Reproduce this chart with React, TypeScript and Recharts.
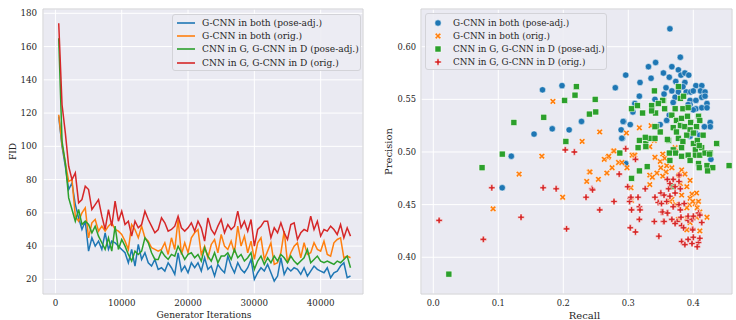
import React from 'react';
import {
  LineChart, Line, ScatterChart, Scatter, XAxis, YAxis, CartesianGrid,
  Legend, ReferenceArea,
} from 'recharts';

// ── Shared look (seaborn darkgrid-ish) ────────────────────────────────────────

const FONT = '"DejaVu Serif", "Liberation Serif", serif';
const PLOT_BG = '#eaeaf2';
const TEXT = '#262626';
const COLORS = ['#1f77b4', '#ff7f0e', '#2ca02c', '#d62728'];
const SERIES_NAMES = [
  'G-CNN in both (pose-adj.)',
  'G-CNN in both (orig.)',
  'CNN in G, G-CNN in D (pose-adj.)',
  'CNN in G, G-CNN in D (orig.)',
];

// ── Left panel: FID over training ─────────────────────────────────────────────

const ITERATIONS = [
  500, 1000, 1500, 2000, 2500, 3000, 3500, 4000, 4500, 5000,
  5500, 6000, 6500, 7000, 7500, 8000, 8500, 9000, 9500, 10000,
  10500, 11000, 11500, 12000, 12500, 13000, 13500, 14000, 14500, 15000,
  15500, 16000, 16500, 17000, 17500, 18000, 18500, 19000, 19500, 20000,
  20500, 21000, 21500, 22000, 22500, 23000, 23500, 24000, 24500, 25000,
  25500, 26000, 26500, 27000, 27500, 28000, 28500, 29000, 29500, 30000,
  30500, 31000, 31500, 32000, 32500, 33000, 33500, 34000, 34500, 35000,
  35500, 36000, 36500, 37000, 37500, 38000, 38500, 39000, 39500, 40000,
  40500, 41000, 41500, 42000, 42500, 43000, 43500, 44000, 44500,
];

const FID_GCNN_BOTH_POSE = [
  118, 100, 88, 74, 78, 65, 57, 50, 55, 37,
  45, 40, 43, 38, 48, 38, 43, 42, 40, 38,
  36, 30, 38, 28, 41, 32, 36, 30, 28, 32,
  26, 27, 25, 30, 27, 23, 36, 25, 28, 24,
  30, 27, 30, 25, 33, 26, 28, 22, 29, 26,
  24, 34, 28, 24, 30, 26, 24, 27, 32, 20,
  24, 27, 25, 29, 24, 19, 22, 33, 23, 27,
  25, 27, 26, 23, 27, 22, 25, 28, 26, 25,
  24, 27, 21, 24, 25, 28, 30, 21, 22,
];

const FID_GCNN_BOTH_ORIG = [
  119, 101, 90, 79, 80, 58, 55, 60, 63, 45,
  54, 56, 49, 52, 49, 52, 54, 50, 49, 47,
  43, 38, 53, 50, 45, 52, 45, 43, 39, 38,
  37, 38, 42, 35, 45, 38, 56, 35, 42, 36,
  45, 48, 50, 35, 40, 33, 41, 44, 36, 47,
  40, 38, 43, 36, 52, 40, 46, 36, 43, 32,
  42, 45, 32, 37, 42, 29, 30, 36, 49, 30,
  36, 40, 42, 33, 42, 35, 36, 42, 38, 37,
  43, 35, 34, 42, 44, 45, 33, 34, 33,
];

const FID_CNN_G_POSE = [
  165, 103, 90, 69, 62, 55, 62, 53, 55, 53,
  48, 52, 46, 42, 38, 45, 37, 52, 38, 44,
  40, 35, 31, 37, 35, 37, 45, 42, 36, 32,
  32, 37, 34, 32, 35, 34, 40, 36, 32, 35,
  36, 33, 35, 31, 39, 34, 31, 36, 30, 34,
  34, 36, 32, 38, 33, 35, 31, 33, 36, 26,
  31, 34, 29, 33, 30, 34, 31, 35, 33, 30,
  34, 31, 29, 31, 33, 38, 30, 32, 34, 31,
  30, 31, 30, 29, 31, 30, 32, 34, 27,
];

const FID_CNN_G_ORIG = [
  174, 125, 108, 88, 80, 84, 66, 68, 76, 74,
  62, 65, 68, 58, 50, 62, 52, 67, 55, 61,
  53, 55, 46, 55, 51, 53, 61, 56, 52, 48,
  50, 57, 54, 49, 50, 52, 58, 51, 49, 51,
  54, 49, 55, 51, 43, 57, 50, 47, 52, 56,
  48, 53, 50, 52, 61, 51, 55, 49, 56, 40,
  50, 52, 55, 55, 45, 51, 48, 54, 48, 44,
  53, 54, 44, 48, 50, 49, 58, 50, 55, 46,
  50, 49, 52, 50, 47, 53, 45, 51, 46,
];

const FID_X_TICKS = [0, 10000, 20000, 30000, 40000];
const FID_Y_TICKS = [20, 40, 60, 80, 100, 120, 140, 160, 180];
const FID_X_DOMAIN: [number, number] = [-1872, 46385];
const FID_Y_DOMAIN: [number, number] = [11.2, 182.6];

// ── Right panel: precision vs recall ──────────────────────────────────────────

const PR_GCNN_BOTH_POSE: [number, number][] = [
  [0.364, 0.617], [0.168, 0.559], [0.198, 0.563], [0.155, 0.517], [0.183, 0.522],
  [0.209, 0.521], [0.228, 0.529], [0.120, 0.496], [0.280, 0.561], [0.296, 0.573],
  [0.289, 0.521], [0.291, 0.513], [0.293, 0.529], [0.303, 0.526], [0.317, 0.553],
  [0.318, 0.566], [0.331, 0.581], [0.342, 0.585], [0.335, 0.570], [0.354, 0.575],
  [0.380, 0.590], [0.367, 0.581], [0.363, 0.571], [0.377, 0.578], [0.381, 0.573],
  [0.387, 0.575], [0.393, 0.573], [0.373, 0.567], [0.387, 0.566], [0.367, 0.558],
  [0.377, 0.557], [0.389, 0.557], [0.396, 0.557], [0.404, 0.563], [0.413, 0.563],
  [0.400, 0.558], [0.411, 0.558], [0.418, 0.557], [0.355, 0.555], [0.341, 0.550],
  [0.372, 0.552], [0.395, 0.549], [0.404, 0.549], [0.413, 0.552], [0.421, 0.546],
  [0.395, 0.545], [0.404, 0.541], [0.413, 0.542], [0.421, 0.542], [0.369, 0.547],
  [0.400, 0.540], [0.418, 0.553], [0.363, 0.535], [0.310, 0.546], [0.307, 0.538],
  [0.426, 0.528], [0.426, 0.524], [0.417, 0.524], [0.410, 0.530], [0.292, 0.529],
  [0.290, 0.513], [0.349, 0.526], [0.359, 0.530], [0.403, 0.518], [0.410, 0.516],
  [0.395, 0.515], [0.427, 0.493], [0.296, 0.489], [0.106, 0.466], [0.384, 0.562],
  [0.392, 0.545], [0.358, 0.561],
];

const PR_GCNN_BOTH_ORIG: [number, number][] = [
  [0.184, 0.548], [0.256, 0.519], [0.229, 0.510], [0.297, 0.518], [0.317, 0.523],
  [0.335, 0.525], [0.340, 0.511], [0.333, 0.505], [0.372, 0.504], [0.353, 0.498],
  [0.341, 0.495], [0.277, 0.501], [0.269, 0.495], [0.263, 0.493], [0.308, 0.497],
  [0.167, 0.496], [0.132, 0.479], [0.092, 0.446], [0.199, 0.457], [0.236, 0.472],
  [0.254, 0.474], [0.240, 0.481], [0.267, 0.480], [0.275, 0.485], [0.285, 0.490],
  [0.298, 0.485], [0.304, 0.466], [0.305, 0.454], [0.270, 0.496], [0.278, 0.501],
  [0.290, 0.490], [0.306, 0.497], [0.310, 0.497], [0.349, 0.491], [0.356, 0.494],
  [0.350, 0.485], [0.359, 0.487], [0.344, 0.480], [0.333, 0.478], [0.358, 0.481],
  [0.367, 0.485], [0.382, 0.483], [0.387, 0.479], [0.395, 0.473], [0.378, 0.478],
  [0.333, 0.469], [0.353, 0.477], [0.241, 0.481], [0.337, 0.476], [0.380, 0.470],
  [0.390, 0.467], [0.398, 0.460], [0.367, 0.455], [0.382, 0.459], [0.395, 0.456],
  [0.405, 0.461], [0.394, 0.450], [0.403, 0.451], [0.408, 0.453], [0.399, 0.453],
  [0.390, 0.447], [0.406, 0.447], [0.410, 0.443], [0.364, 0.453], [0.373, 0.450],
  [0.421, 0.438], [0.390, 0.437], [0.395, 0.433], [0.405, 0.438], [0.390, 0.426],
  [0.410, 0.425], [0.377, 0.436], [0.372, 0.434],
];

const PR_CNN_G_POSE: [number, number][] = [
  [0.220, 0.562], [0.218, 0.554], [0.202, 0.549], [0.249, 0.550], [0.250, 0.538],
  [0.240, 0.536], [0.170, 0.533], [0.124, 0.528], [0.204, 0.510], [0.106, 0.498],
  [0.305, 0.541], [0.314, 0.544], [0.322, 0.537], [0.317, 0.511], [0.315, 0.504],
  [0.327, 0.508], [0.333, 0.513], [0.341, 0.513], [0.336, 0.544], [0.340, 0.558],
  [0.354, 0.549], [0.356, 0.541], [0.342, 0.537], [0.343, 0.524], [0.349, 0.519],
  [0.362, 0.511], [0.287, 0.499], [0.436, 0.508], [0.426, 0.499], [0.377, 0.562],
  [0.380, 0.551], [0.385, 0.553], [0.353, 0.549], [0.346, 0.546], [0.336, 0.539],
  [0.367, 0.535], [0.372, 0.541], [0.384, 0.541], [0.392, 0.542], [0.374, 0.530],
  [0.382, 0.532], [0.391, 0.534], [0.380, 0.525], [0.387, 0.524], [0.396, 0.528],
  [0.408, 0.534], [0.410, 0.530], [0.369, 0.523], [0.374, 0.519], [0.395, 0.521],
  [0.405, 0.524], [0.341, 0.524], [0.377, 0.513], [0.390, 0.516], [0.400, 0.518],
  [0.415, 0.516], [0.326, 0.514], [0.360, 0.512], [0.369, 0.502], [0.382, 0.504],
  [0.400, 0.508], [0.406, 0.511], [0.413, 0.504], [0.403, 0.502], [0.327, 0.505],
  [0.384, 0.510], [0.409, 0.506], [0.363, 0.499], [0.373, 0.499], [0.382, 0.496],
  [0.392, 0.497], [0.403, 0.497], [0.410, 0.497], [0.418, 0.499], [0.425, 0.498],
  [0.364, 0.492], [0.395, 0.492], [0.408, 0.489], [0.421, 0.487], [0.409, 0.485],
  [0.430, 0.485], [0.455, 0.487], [0.329, 0.486], [0.317, 0.482], [0.422, 0.482],
  [0.305, 0.475], [0.368, 0.467], [0.075, 0.485], [0.024, 0.384],
];

const PR_CNN_G_ORIG: [number, number][] = [
  [0.203, 0.502], [0.217, 0.500], [0.296, 0.503], [0.311, 0.493], [0.009, 0.435],
  [0.077, 0.417], [0.090, 0.466], [0.135, 0.438], [0.169, 0.466], [0.189, 0.465],
  [0.205, 0.427], [0.235, 0.457], [0.244, 0.465], [0.256, 0.445], [0.278, 0.453],
  [0.286, 0.479], [0.299, 0.467], [0.303, 0.456], [0.305, 0.445], [0.303, 0.428],
  [0.311, 0.424], [0.315, 0.457], [0.317, 0.448], [0.318, 0.445], [0.317, 0.436],
  [0.326, 0.465], [0.340, 0.434], [0.347, 0.420], [0.354, 0.434], [0.351, 0.443],
  [0.361, 0.442], [0.381, 0.438], [0.382, 0.415], [0.387, 0.412], [0.398, 0.413],
  [0.392, 0.417], [0.400, 0.419], [0.392, 0.435], [0.399, 0.436], [0.399, 0.427],
  [0.408, 0.414], [0.406, 0.410], [0.410, 0.418], [0.413, 0.433], [0.408, 0.442],
  [0.410, 0.440], [0.245, 0.464], [0.302, 0.453], [0.341, 0.457], [0.350, 0.461],
  [0.355, 0.459], [0.362, 0.465], [0.364, 0.470], [0.369, 0.474], [0.378, 0.478],
  [0.378, 0.472], [0.360, 0.474], [0.372, 0.467], [0.380, 0.465], [0.372, 0.461],
  [0.364, 0.458], [0.359, 0.453], [0.346, 0.452], [0.351, 0.451], [0.353, 0.443],
  [0.360, 0.442], [0.369, 0.448], [0.378, 0.450], [0.380, 0.445], [0.386, 0.451],
  [0.355, 0.434], [0.367, 0.436], [0.375, 0.434], [0.382, 0.430], [0.372, 0.432],
  [0.398, 0.436], [0.392, 0.439], [0.400, 0.439], [0.385, 0.428], [0.399, 0.426],
  [0.304, 0.457],
];

const PR_X_TICKS = [0, 0.1, 0.2, 0.3, 0.4];
const PR_Y_TICKS = [0.4, 0.45, 0.5, 0.55, 0.6];
const PR_X_DOMAIN: [number, number] = [-0.0189, 0.4595];
const PR_Y_DOMAIN: [number, number] = [0.3651, 0.6358];

// ── Helpers ───────────────────────────────────────────────────────────────────

type MarkerKind = 'circle' | 'x' | 'square' | 'plus';
const MARKERS: MarkerKind[] = ['circle', 'x', 'square', 'plus'];

/** Filled plus outline centred on 0,0 (arm half-length L, half-width w) */
const plusPath = (L: number, w: number) =>
  `M${-w},${-L}H${w}V${-w}H${L}V${w}H${w}V${L}H${-w}V${w}H${-L}V${-w}H${-w}Z`;

const Marker: React.FC<{ kind: MarkerKind; cx: number; cy: number; color: string }> = ({
  kind, cx, cy, color,
}) => {
  const edge = { stroke: '#ffffff', strokeWidth: 0.5 };
  if (kind === 'circle') return <circle cx={cx} cy={cy} r={3.2} fill={color} {...edge} />;
  if (kind === 'square') {
    return <rect x={cx - 3} y={cy - 3} width={6} height={6} fill={color} {...edge} />;
  }
  const rot = kind === 'x' ? ' rotate(45)' : '';
  return (
    <path
      d={plusPath(kind === 'x' ? 3.4 : 3.2, 1.05)}
      transform={`translate(${cx} ${cy})${rot}`}
      fill={color}
      {...edge}
    />
  );
};

/** Rotated y-axis title, placed relative to the axis viewBox */
const YTitle: React.FC<{ viewBox?: any; text: string; dx: number; size: number }> = ({
  viewBox, text, dx, size,
}) => {
  if (!viewBox) return null;
  const cx = viewBox.x + dx;
  const cy = viewBox.y + viewBox.height / 2;
  return (
    <text
      x={cx} y={cy}
      transform={`rotate(-90 ${cx} ${cy})`}
      textAnchor="middle"
      dominantBaseline="central"
      fill={TEXT}
      style={{ fontFamily: FONT, fontSize: size }}
    >
      {text}
    </text>
  );
};

/** x-axis title, baseline placed below the axis top */
const XTitle: React.FC<{ viewBox?: any; text: string; dx: number; dy: number; size: number }> = ({
  viewBox, text, dx, dy, size,
}) => {
  if (!viewBox) return null;
  return (
    <text
      x={viewBox.x + viewBox.width / 2 + dx}
      y={viewBox.y + dy}
      textAnchor="middle"
      fill={TEXT}
      style={{ fontFamily: FONT, fontSize: size }}
    >
      {text}
    </text>
  );
};

const legendBox: React.CSSProperties = {
  boxSizing: 'border-box',
  background: 'rgba(236,236,243,0.9)',
  border: '1px solid #d3d3d8',
  borderRadius: 3,
  fontFamily: FONT,
  color: TEXT,
};

const LineLegend: React.FC = () => (
  <div style={{ ...legendBox, width: 189, height: 57, paddingTop: 1.5, fontSize: 9.1 }}>
    {SERIES_NAMES.map((name, i) => (
      <div key={name} style={{ display: 'flex', alignItems: 'center', height: 13.2 }}>
        <svg width={18} height={4} style={{ marginLeft: 4, marginRight: 7, flexShrink: 0 }}>
          <line x1={0} y1={2} x2={18} y2={2} stroke={COLORS[i]} strokeWidth={1.6} />
        </svg>
        <span style={{ whiteSpace: 'nowrap' }}>{name}</span>
      </div>
    ))}
  </div>
);

const ScatterLegend: React.FC = () => (
  <div style={{ ...legendBox, width: 182, height: 57, paddingTop: 3, fontSize: 8.8 }}>
    {SERIES_NAMES.map((name, i) => (
      <div key={name} style={{ display: 'flex', alignItems: 'center', height: 13 }}>
        <svg width={10} height={10} style={{ marginLeft: 7, marginRight: 10, flexShrink: 0 }}>
          <Marker kind={MARKERS[i]} cx={5} cy={5} color={COLORS[i]} />
        </svg>
        <span style={{ whiteSpace: 'nowrap' }}>{name}</span>
      </div>
    ))}
  </div>
);

// ── Data tables for recharts ──────────────────────────────────────────────────

const FID_SERIES = [FID_GCNN_BOTH_POSE, FID_GCNN_BOTH_ORIG, FID_CNN_G_POSE, FID_CNN_G_ORIG];

const fidData = ITERATIONS.map((iter, i) => ({
  iter,
  s0: FID_SERIES[0][i],
  s1: FID_SERIES[1][i],
  s2: FID_SERIES[2][i],
  s3: FID_SERIES[3][i],
}));

const PR_SERIES = [PR_GCNN_BOTH_POSE, PR_GCNN_BOTH_ORIG, PR_CNN_G_POSE, PR_CNN_G_ORIG].map(
  (pts) => pts.map(([recall, precision]) => ({ recall, precision })),
);

const tickStyle = (size: number) => ({ fill: TEXT, fontSize: size, fontFamily: FONT });

// ── App ───────────────────────────────────────────────────────────────────────

export default function App() {
  return (
    <div style={{ position: 'absolute', left: 0, top: 0, width: 736, height: 320, background: '#fff' }}>
      <div style={{ position: 'absolute', left: 0, top: 0 }}>
        <LineChart width={370} height={320} data={fidData} margin={{ top: 9, right: 7, left: 0, bottom: 0 }}>
          <CartesianGrid fill={PLOT_BG} fillOpacity={1} stroke="#ffffff" strokeWidth={1} />
          <XAxis
            dataKey="iter"
            type="number"
            domain={FID_X_DOMAIN}
            allowDataOverflow
            ticks={FID_X_TICKS}
            interval={0}
            height={26}
            axisLine={false}
            tickLine={false}
            tickSize={0}
            tickMargin={6}
            tick={tickStyle(8.7)}
            label={<XTitle text="Generator Iterations" dx={1} dy={24.3} size={9.1} />}
          />
          <YAxis
            type="number"
            domain={FID_Y_DOMAIN}
            allowDataOverflow
            ticks={FID_Y_TICKS}
            interval={0}
            width={43}
            axisLine={false}
            tickLine={false}
            tickSize={0}
            tickMargin={6}
            tick={tickStyle(8.7)}
            label={<YTitle text="FID" dx={13} size={9.1} />}
          />
          <ReferenceArea
            x1={FID_X_DOMAIN[0]} x2={FID_X_DOMAIN[1]}
            y1={FID_Y_DOMAIN[0]} y2={FID_Y_DOMAIN[1]}
            fill="none" stroke="#cfcfd3" strokeWidth={1} ifOverflow="visible"
          />
          {SERIES_NAMES.map((name, i) => (
            <Line
              key={name}
              type="linear"
              dataKey={`s${i}`}
              name={name}
              stroke={COLORS[i]}
              strokeWidth={1.5}
              dot={false}
              activeDot={false}
              isAnimationActive={false}
            />
          ))}
          <Legend
            content={<LineLegend />}
            layout="vertical"
            align="center"
            verticalAlign="middle"
            wrapperStyle={{ left: 172, top: 14, width: 189 }}
          />
        </LineChart>
      </div>

      <div style={{ position: 'absolute', left: 370, top: 0 }}>
        <ScatterChart width={366} height={320} margin={{ top: 9, right: 4, left: 0, bottom: 0 }}>
          <CartesianGrid fill={PLOT_BG} fillOpacity={1} stroke="#ffffff" strokeWidth={1} />
          <XAxis
            dataKey="recall"
            type="number"
            domain={PR_X_DOMAIN}
            allowDataOverflow
            ticks={PR_X_TICKS}
            interval={0}
            height={26}
            axisLine={false}
            tickLine={false}
            tickSize={0}
            tickMargin={6}
            tick={tickStyle(8.3)}
            tickFormatter={(v: number) => v.toFixed(1)}
            label={<XTitle text="Recall" dx={8} dy={25} size={10} />}
          />
          <YAxis
            dataKey="precision"
            type="number"
            domain={PR_Y_DOMAIN}
            allowDataOverflow
            ticks={PR_Y_TICKS}
            interval={0}
            width={51}
            axisLine={false}
            tickLine={false}
            tickSize={0}
            tickMargin={5}
            tick={tickStyle(8.3)}
            tickFormatter={(v: number) => v.toFixed(2)}
            label={<YTitle text="Precision" dx={18} size={10} />}
          />
          <ReferenceArea
            x1={PR_X_DOMAIN[0]} x2={PR_X_DOMAIN[1]}
            y1={PR_Y_DOMAIN[0]} y2={PR_Y_DOMAIN[1]}
            fill="none" stroke="#cfcfd3" strokeWidth={1} ifOverflow="visible"
          />
          {SERIES_NAMES.map((name, i) => (
            <Scatter
              key={name}
              name={name}
              data={PR_SERIES[i]}
              fill={COLORS[i]}
              isAnimationActive={false}
              shape={(p: any) => <Marker kind={MARKERS[i]} cx={p.cx} cy={p.cy} color={COLORS[i]} />}
            />
          ))}
          <Legend
            content={<ScatterLegend />}
            layout="vertical"
            align="center"
            verticalAlign="middle"
            wrapperStyle={{ left: 55, top: 12.5, width: 182 }}
          />
        </ScatterChart>
      </div>
    </div>
  );
}
